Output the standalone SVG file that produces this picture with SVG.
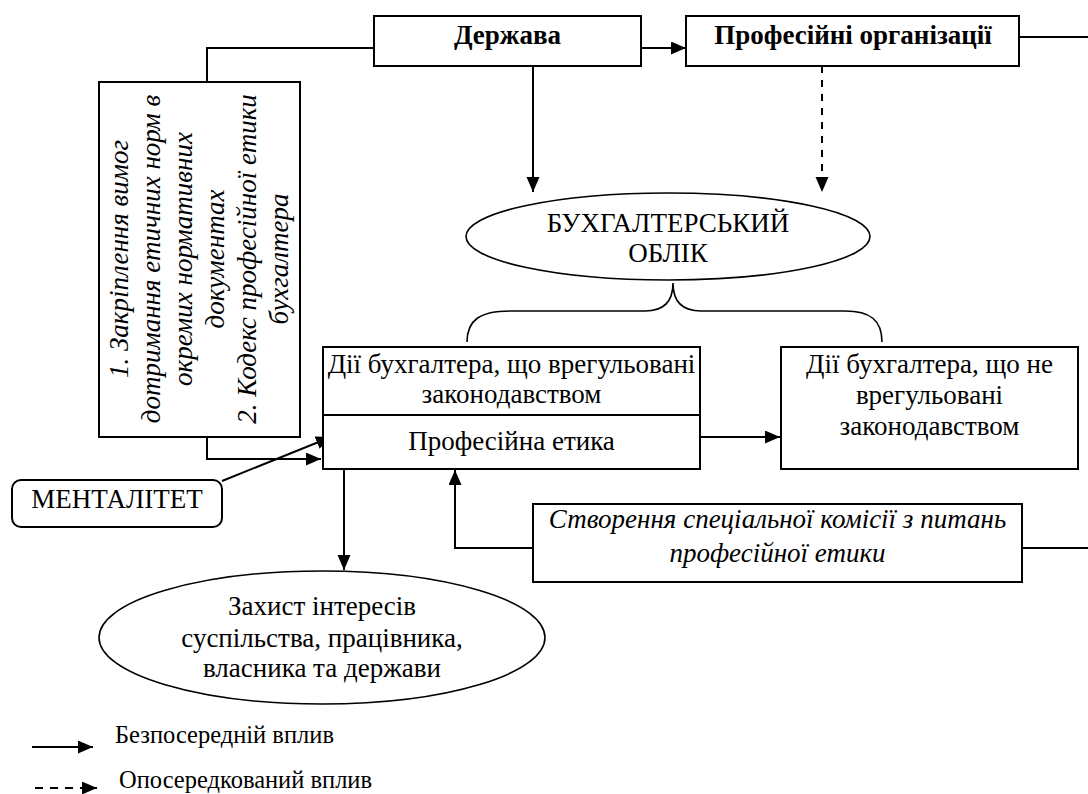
<svg xmlns="http://www.w3.org/2000/svg" width="1088" height="794" viewBox="0 0 1088 794" font-family="'Liberation Serif', 'DejaVu Serif', serif">
<style>
text{font-family:'Liberation Serif','DejaVu Serif',serif;font-size:27px;fill:#000;text-anchor:middle}
.b{font-weight:bold}
.i{font-style:italic}
.lg{font-size:24.5px;text-anchor:start}
.box{fill:#fff;stroke:#000;stroke-width:2}
.ell{fill:#fff;stroke:#000;stroke-width:1.6}
.ln{fill:none;stroke:#000;stroke-width:2}
.thin{fill:none;stroke:#000;stroke-width:1.6}
.dash{stroke-dasharray:7 7}
</style>
<defs>
<marker id="ah" markerUnits="userSpaceOnUse" markerWidth="16" markerHeight="14" refX="15" refY="6.5" orient="auto">
<path d="M0,0 L15,6.5 L0,13 z" fill="#000"/>
</marker>
</defs>
<rect width="1088" height="794" fill="#fff"/>

<g id="connectors">
<polyline class="ln" points="207,82 207,48 374,48"/>
<polyline class="ln" points="207,437 207,459 321,459" marker-end="url(#ah)"/>
<line class="ln" x1="222" y1="481" x2="331" y2="437" marker-end="url(#ah)"/>
<line class="ln" x1="641" y1="48" x2="686" y2="48" marker-end="url(#ah)"/>
<line class="ln" x1="1019" y1="37" x2="1088" y2="37"/>
<line class="ln" x1="533" y1="66" x2="533" y2="192" marker-end="url(#ah)"/>
<line class="ln dash" x1="822" y1="66" x2="822" y2="192" marker-end="url(#ah)"/>
<path class="thin" d="M467,342 C467,320 480,311 510,311 L645,311 C665,311 673,300 673,283 C673,300 681,311 701,311 L845,311 C870,311 882,320 882,342"/>
<line class="ln" x1="700" y1="437" x2="780" y2="437" marker-end="url(#ah)"/>
<polyline class="ln" points="533,548 455,548 455,470" marker-end="url(#ah)"/>
<line class="ln" x1="1022" y1="548" x2="1088" y2="548"/>
<line class="ln" x1="344" y1="470" x2="344" y2="570" marker-end="url(#ah)"/>
</g>

<g id="derzhava">
<rect class="box" x="374" y="16" width="267" height="50"/>
<text class="b" x="507.5" y="44">Держава</text>
</g>

<g id="prof-org">
<rect class="box" x="686" y="16" width="333" height="50"/>
<text class="b" x="853" y="44">Професійні організації</text>
</g>

<g id="norms">
<rect class="box" x="99" y="82" width="201" height="355"/>
<text class="i" transform="translate(128,259) rotate(-90)">1. Закріплення вимог</text>
<text class="i" transform="translate(160,259) rotate(-90)">дотримання етичних норм в</text>
<text class="i" transform="translate(192,259) rotate(-90)">окремих нормативних</text>
<text class="i" transform="translate(224,259) rotate(-90)">документах</text>
<text class="i" transform="translate(256,259) rotate(-90)">2. Кодекс професійної етики</text>
<text class="i" transform="translate(288,259) rotate(-90)">бухгалтера</text>
</g>

<g id="oblik">
<ellipse class="ell" cx="668" cy="236.5" rx="202" ry="43.5"/>
<text x="668" y="232">БУХГАЛТЕРСЬКИЙ</text>
<text x="668" y="262">ОБЛІК</text>
</g>

<g id="regulated">
<rect class="box" x="323" y="347" width="377" height="122"/>
<line class="ln" x1="323" y1="415" x2="700" y2="415"/>
<text x="511.5" y="373">Дії бухгалтера, що врегульовані</text>
<text x="511.5" y="403">законодавством</text>
<text x="511.5" y="450">Професійна етика</text>
</g>

<g id="not-regulated">
<rect class="box" x="781" y="347" width="297" height="122"/>
<text x="929.5" y="373">Дії бухгалтера, що не</text>
<text x="929.5" y="404">врегульовані</text>
<text x="929.5" y="435">законодавством</text>
</g>

<g id="mentalitet">
<rect class="box" x="12" y="480" width="210" height="47" rx="9" ry="9"/>
<text x="117" y="508">МЕНТАЛІТЕТ</text>
</g>

<g id="commission">
<rect class="box" x="533" y="504" width="489" height="78"/>
<text class="i" x="777.5" y="528">Створення спеціальної комісії з питань</text>
<text class="i" x="777.5" y="562">професійної етики</text>
</g>

<g id="zakhyst">
<ellipse class="ell" cx="322" cy="637.5" rx="223" ry="66.5"/>
<text x="322" y="615">Захист інтересів</text>
<text x="322" y="647">суспільства, працівника,</text>
<text x="322" y="677">власника та держави</text>
</g>

<g id="legend">
<line class="ln" x1="32" y1="747" x2="93" y2="747" marker-end="url(#ah)"/>
<text class="lg" x="115" y="743">Безпосередній вплив</text>
<line class="ln" x1="35" y1="788" x2="82" y2="788" stroke-dasharray="8 7"/>
<line class="ln" x1="82" y1="788" x2="97" y2="788" marker-end="url(#ah)"/>
<text class="lg" x="119" y="788">Опосередкований вплив</text>
</g>
</svg>
